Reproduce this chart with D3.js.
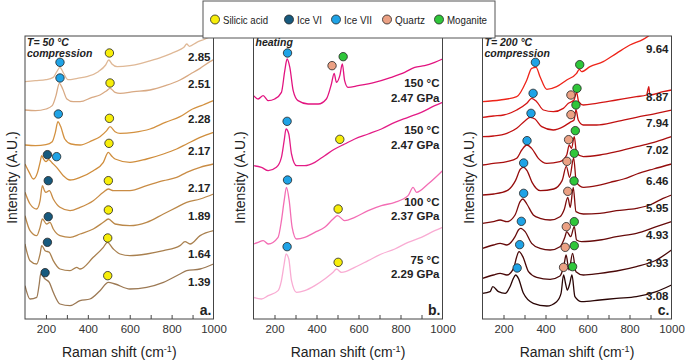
<!DOCTYPE html>
<html><head><meta charset="utf-8">
<script src="https://cdn.jsdelivr.net/npm/d3@7"></script>
<style>body{margin:0;background:#fff}svg{display:block;font-family:"Liberation Sans",Arial,sans-serif}</style>
</head><body><svg id="c" width="685" height="362"></svg>
<script>
// ---------- Panel a (T = 50 °C, compression) ----------
const a285 = [[100,712],[150,715],[200,718],[235,725],[252,742],[267,755],[282,740],[305,718],[350,722],[400,728],[450,742],[485,762],[500,777],[515,765],[540,757],[600,760],[650,766],[700,775],[750,785],[800,797],[840,808],[860,816],[872,825],[885,818],[920,830],[960,840],[1000,852]];
const a251 = [[100,627],[150,625],[200,630],[230,640],[248,670],[264,707],[280,690],[300,660],[330,652],[363,652],[420,665],[458,672],[490,685],[506,692],[530,680],[554,677],[620,682],[697,687],[770,700],[840,717],[890,735],[936,752],[983,772],[1000,778]];
const a228 = [[100,522],[150,520],[200,523],[230,532],[245,560],[257,592],[270,578],[290,540],[320,525],[363,522],[420,535],[458,547],[490,565],[506,577],[530,562],[554,557],[620,560],[697,570],[770,590],[840,607],[900,630],[950,642],[1000,655]];
const a217u = [[100,465],[120,440],[140,420],[160,440],[172,470],[180,490],[190,478],[200,472],[213,478],[230,468],[251,455],[283,430],[315,417],[363,425],[426,445],[474,470],[498,500],[515,488],[530,480],[601,470],[681,480],[761,495],[824,510],[872,525],[936,545],[1000,560]];
const a217l = [[100,380],[124,345],[156,330],[172,355],[183,400],[193,385],[200,380],[216,385],[235,360],[267,335],[315,325],[363,335],[426,355],[474,380],[498,390],[522,385],[601,385],[681,400],[761,415],[824,425],[872,440],[936,455],[1000,465]];
const a189 = [[100,310],[124,265],[156,250],[172,275],[183,300],[203,285],[219,290],[235,270],[267,250],[315,245],[363,255],[426,270],[474,290],[498,300],[530,285],[601,280],[681,290],[761,315],[824,335],[872,350],[936,360],[1000,375]];
const a164 = [[100,225],[124,175],[156,165],[172,195],[180,220],[196,205],[216,200],[235,175],[267,150],[315,145],[347,155],[363,150],[426,185],[474,215],[493,230],[522,210],[554,195],[601,190],[681,195],[761,205],[840,220],[864,232],[888,225],[936,250],[1000,265]];
const a139 = [[100,100],[124,60],[156,65],[168,105],[175,135],[196,120],[216,110],[235,80],[267,45],[315,40],[363,55],[410,60],[458,85],[498,110],[530,105],[601,90],[681,95],[761,110],[840,135],[872,145],[936,150],[1000,165]];
const aLabels = [["2.85",787],["2.51",705],["2.28",600],["2.17",505],["2.17",393],["1.89",310],["1.64",195],["1.39",110]];
const aMarks = [["VII",267,770],["S",503,798],["VII",267,723],["S",506,708],["VII",259,615],["S",503,602],
  ["VI",207,493],["VII",251,487],["S",501,527],["VI",211,415],["S",498,415],["VI",211,307],["S",498,327],
  ["VI",207,230],["S",495,243],["VI",196,139],["S",495,130]];

// ---------- Panel b (heating) ----------
const b150a = [[100,670],[122,660],[146,670],[170,655],[201,660],[233,680],[249,745],[260,780],[273,755],[289,685],[312,655],[360,645],[408,645],[447,660],[471,705],[484,737],[495,710],[511,730],[523,765],[534,715],[550,695],[598,700],[677,710],[756,725],[820,740],[868,755],[915,760],[963,770],[1000,780]];
const b150b = [[100,460],[138,455],[170,445],[209,455],[233,485],[246,535],[255,570],[268,555],[281,495],[305,460],[344,460],[392,470],[439,490],[487,510],[534,525],[582,540],[646,555],[709,570],[773,590],[836,605],[899,620],[963,640],[1000,650]];
const b100 = [[100,225],[122,230],[146,235],[170,225],[217,245],[233,295],[246,355],[257,395],[270,355],[284,275],[305,240],[344,245],[392,260],[439,275],[479,300],[500,310],[534,295],[582,305],[646,325],[709,340],[773,350],[836,370],[860,395],[876,380],[931,405],[1000,445]];
const b75 = [[100,65],[138,60],[170,70],[217,85],[233,115],[246,165],[255,195],[268,180],[281,115],[305,80],[344,85],[392,100],[439,120],[479,140],[495,150],[519,140],[582,155],[646,175],[709,195],[773,210],[836,230],[899,245],[963,265],[1000,275]];
const bLabels = [["150 °C",707],["2.47 GPa",662],["150 °C",567],["2.47 GPa",522],["100 °C",352],["2.37 GPa",310],["75 °C",176],["2.29 GPa",135]];
const bMarks = [["VII",262,798],["Q",474,760],["M",527,787],["VII",260,593],["S",511,539],["VII",262,417],["S",503,330],["VII",260,217],["S",503,170]];

// ---------- Panel c (T = 200 °C, compression) ----------
const c964 = [[100,652],[184,657],[263,667],[311,717],[334,752],[355,755],[374,727],[406,689],[453,697],[501,717],[548,737],[561,749],[572,742],[612,757],[675,772],[738,797],[802,822],[865,839],[897,852],[1000,898]];
const c887 = [[100,605],[152,609],[200,612],[263,627],[311,647],[334,662],[358,652],[390,627],[437,622],[485,632],[509,647],[536,657],[548,680],[558,652],[580,642],[643,647],[738,657],[833,667],[881,672],[892,697],[897,672],[960,682],[1000,687]];
const c794 = [[100,547],[152,549],[216,557],[263,572],[303,595],[327,605],[350,600],[382,577],[437,567],[485,577],[517,590],[536,597],[545,628],[556,597],[580,582],[643,582],[738,592],[833,605],[928,617],[1000,627]];
const c702 = [[100,462],[152,467],[216,472],[263,482],[287,507],[311,522],[334,512],[366,482],[406,467],[469,472],[501,492],[513,522],[524,512],[537,547],[548,497],[580,487],[659,492],[738,502],[833,517],[928,532],[1000,547]];
const c646 = [[100,372],[154,375],[217,385],[257,415],[281,450],[296,455],[312,445],[336,410],[376,385],[439,390],[479,415],[499,458],[515,425],[534,483],[547,410],[582,395],[645,400],[708,410],[772,420],[835,435],[914,450],[1000,465]];
const c595 = [[100,287],[152,292],[184,297],[216,292],[255,312],[279,352],[292,360],[311,345],[342,312],[374,302],[422,297],[469,307],[490,330],[506,365],[518,335],[532,395],[545,322],[580,315],[659,317],[738,325],[833,332],[897,342],[960,362],[1000,372]];
const c493 = [[100,212],[152,222],[184,227],[216,222],[255,247],[271,267],[282,272],[303,262],[334,227],[374,212],[422,207],[469,217],[493,247],[501,262],[520,247],[537,277],[548,237],[572,232],[659,237],[738,247],[833,257],[928,277],[1000,292]];
const c393 = [[100,122],[152,132],[184,137],[216,132],[248,152],[263,187],[274,202],[292,187],[319,142],[358,125],[422,119],[469,129],[488,162],[498,192],[512,147],[529,197],[545,142],[580,132],[659,137],[738,144],[833,157],[928,177],[1000,207]];
const c308 = [[100,77],[136,82],[149,97],[176,82],[208,77],[231,97],[247,122],[258,132],[271,122],[295,77],[342,47],[406,39],[453,52],[474,77],[486,132],[496,105],[504,87],[515,105],[526,132],[540,67],[572,52],[659,57],[738,62],[833,67],[928,82],[1000,102]];
const cLabels = [["9.64",810],["8.87",665],["7.94",587],["7.02",507],["6.46",415],["5.95",332],["4.93",253],["3.93",167],["3.08",70]];
const cMarks = [["VII",352,770],["M",563,763],["VII",341,677],["Q",521,672],["M",550,692],["VII",331,617],["Q",521,613],["M",545,642],
  ["VII",312,535],["Q",510,538],["M",542,565],["VII",296,468],["Q",502,473],["M",537,497],["VII",296,377],["Q",506,383],["M",536,414],
  ["VII",285,293],["Q",499,277],["M",537,292],["VII",277,223],["Q",494,215],["M",537,220],["VII",265,153],["Q",486,155],["M",529,157]];

// ---------- Legend & axes ----------
const legendKeys = ["S","VI","VII","Q","M"];
const legendNames = ["Silicic acid","Ice VI","Ice VII","Quartz","Moganite"];
const markColors = {S:"#f7ee0a",VI:"#175a7e",VII:"#1fa3e6",Q:"#eba184",M:"#2fc63a"};
const xTicksMinor = [200,300,400,500,600,700,800,900];
const xTickLabels = [200,400,600,800,1000];

const svg = d3.select("#c");
const PT = 36, PB = 319;
const y = d3.scaleLinear().domain([0,849]).range([PB, PT]);

const panels = [
  {x0:25, x1:213.5, spectra:[a285,a251,a228,a217u,a217l,a189,a164,a139],
   colors:["#dfb896","#d8a983","#d39140","#cf8d3c","#c98c45","#bb8849","#a9804f","#9c7954"],
   labels:aLabels, marks:aMarks, head:["T= 50 °C","compression"], tag:"a.", ytx:12},
  {x0:253.5, x1:442.5, spectra:[b150a,b150b,b100,b75],
   colors:["#e2137f","#e31c86","#f36db4","#f9acd3"],
   labels:bLabels, marks:bMarks, head:["heating"], tag:"b.", ytx:240},
  {x0:482.5, x1:671.5, spectra:[c964,c887,c794,c702,c646,c595,c493,c393,c308],
   colors:["#ee2419","#d41614","#c01010","#a90e0e","#940c0c","#7d0b0b","#660a0a","#4a0808","#2a0505"],
   labels:cLabels, marks:cMarks, head:["T= 200 °C","compression"], tag:"c.", ytx:469}
];

panels.forEach((p,i)=>{
  const x = d3.scaleLinear().domain([100,1000]).range([p.x0,p.x1]);
  const g = svg.append("g");
  const cid = "clip"+i;
  svg.append("clipPath").attr("id",cid).append("rect")
    .attr("x",p.x0).attr("y",PT).attr("width",p.x1-p.x0).attr("height",PB-PT);
  const line = d3.line().x(d=>x(d[0])).y(d=>y(d[1])).curve(d3.curveMonotoneX);
  const lg = g.append("g").attr("clip-path",`url(#${cid})`);
  p.spectra.forEach((s,k)=>{
    lg.append("path").attr("d",line(s)).attr("fill","none")
      .attr("stroke",p.colors[k]).attr("stroke-width",1.3).attr("stroke-linejoin","round");
  });
  g.append("g").attr("transform",`translate(0,${PB})`)
    .call(d3.axisBottom(x).tickValues(xTicksMinor).tickSize(-4).tickFormat(""))
    .call(a=>{a.select(".domain").remove();a.selectAll("line").attr("stroke","#444");});
  g.append("g").attr("transform",`translate(0,${PB})`)
    .call(d3.axisBottom(x).tickValues(xTickLabels).tickSize(0).tickPadding(6).tickFormat(d3.format("d")))
    .call(a=>{a.select(".domain").remove();
      a.selectAll("text").attr("font-size",11.5).attr("fill","#333").attr("font-family","Liberation Sans, Arial, sans-serif");});
  g.append("rect").attr("x",p.x0).attr("y",PT).attr("width",p.x1-p.x0).attr("height",PB-PT)
    .attr("fill","none").attr("stroke","#444").attr("stroke-width",1);
  g.selectAll("circle.m").data(p.marks).enter().append("circle")
    .attr("cx",d=>x(d[1])).attr("cy",d=>y(d[2])).attr("r",4.2)
    .attr("fill",d=>markColors[d[0]]).attr("stroke","#222").attr("stroke-width",0.8);
  g.selectAll("text.lab").data(p.labels).enter().append("text")
    .attr("x",p.x1-3).attr("y",d=>y(d[1])).attr("dy","0.35em").attr("text-anchor","end")
    .attr("font-size",11.5).attr("font-weight","bold").attr("fill","#222").text(d=>d[0]);
  p.head.forEach((h,k)=>{
    g.append("text").attr("x",p.x0+2).attr("y",46+k*11).attr("font-size",10.5)
      .attr("font-weight","bold").attr("font-style","italic").attr("fill","#222").text(h);
  });
  g.append("text").attr("x",p.x1-2).attr("y",PB-4).attr("text-anchor","end")
    .attr("font-size",14).attr("font-weight","bold").attr("fill","#222").text(p.tag);
  const t = g.append("text").attr("x",(p.x0+p.x1)/2).attr("y",357).attr("text-anchor","middle")
    .attr("font-size",14).attr("fill","#222");
  t.append("tspan").text("Raman shift (cm");
  t.append("tspan").attr("dy",-5).attr("font-size",9).text("-1");
  t.append("tspan").attr("dy",5).text(")");
  g.append("text").attr("transform",`translate(${p.ytx+5},${(PT+PB)/2}) rotate(-90)`)
    .attr("text-anchor","middle").attr("font-size",14).attr("fill","#222").text("Intensity (A.U.)");
});

// legend
const L = svg.append("g");
L.append("rect").attr("x",203).attr("y",1).attr("width",292).attr("height",37)
  .attr("fill","#fff").attr("stroke","#555").attr("stroke-width",1);
const lx = [215,289,336,387,439];
const lw = [45,25,28,30,40];
legendKeys.forEach((k,i)=>{
  L.append("circle").attr("cx",lx[i]).attr("cy",19.5).attr("r",4.5)
    .attr("fill",markColors[k]).attr("stroke","#222").attr("stroke-width",0.8);
  L.append("text").attr("x",lx[i]+8).attr("y",19.5).attr("dy","0.35em")
    .attr("font-size",11.5).attr("fill","#222")
    .attr("textLength",lw[i]).attr("lengthAdjust","spacingAndGlyphs").text(legendNames[i]);
});
</script></body></html>
